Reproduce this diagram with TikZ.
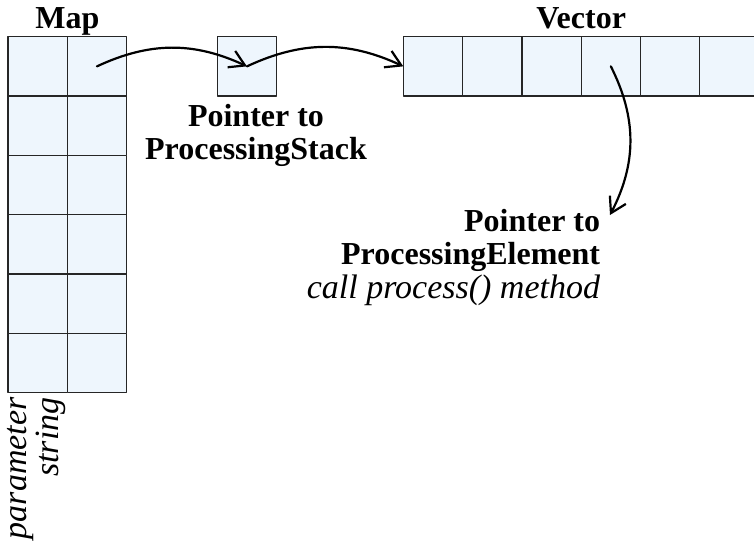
\documentclass[tikz,border=0pt]{standalone}
\usepackage{fontspec}
\setmainfont{Liberation Serif}
\usepackage{xcolor}
\usepackage{tikz}
\usetikzlibrary{arrows.meta}
\definecolor{cellfill}{RGB}{238,246,253}
\tikzset{
  cell/.style={draw=black!85,fill=cellfill,line width=0.6pt,minimum width=29.65pt,minimum height=29.65pt,inner sep=0pt,outer sep=0pt},
  heading/.style={font=\fontsize{16}{16.8}\selectfont\bfseries,inner sep=0pt},
  note/.style={font=\fontsize{17}{16}\selectfont\itshape,inner sep=0pt},
  pointer/.style={->,line width=1.1pt},
}

\begin{document}
\begin{tikzpicture}[line cap=round,line join=round,>={Straight Barb[length=7.5pt,width=9pt]},x=0.5pt,y=-0.5pt]
  \clip (0,0) rectangle (754,548);
  \foreach \r in {1,...,6}{
    \foreach \c in {1,2}{
      \node[cell] (map-\r-\c) at ({8+59.3*(\c-0.5)},{36.7+59.3*(\r-0.5)}) {};
    }
  }
  \node[cell] (stack) at (246.95,66.35) {};
  \foreach \c in {1,...,6}{
    \node[cell] (vec-\c) at ({403.3+59.3*(\c-0.5)},66.35) {};
  }
  \node[heading,anchor=base] (maptitle) at (67.35,28) {Map};
  \node[heading,anchor=base] (vectitle) at (581.2,28) {Vector};
  \node[heading,align=center,anchor=north] (stacklabel) at (256,103.5) {Pointer to\\ProcessingStack};
  \node[heading,align=right,anchor=north east] (elemlabel) at (600.5,208.5) {Pointer to\\ProcessingElement\\{\normalfont\fontsize{17}{16.8}\selectfont\itshape call process() method}};
  \node[note,align=right,rotate=90,anchor=east] (paramlabel) at (37,397) {parameter\\string};
  \coordinate (elemtip) at (610,215);
  \draw[pointer] (map-1-2.center) to[bend left=25] (stack.center);
  \draw[pointer] (stack.center) to[bend left=25] (vec-1.west);
  \draw[pointer] (vec-4.center) to[bend left=27] (elemtip);
\end{tikzpicture}
\end{document}
